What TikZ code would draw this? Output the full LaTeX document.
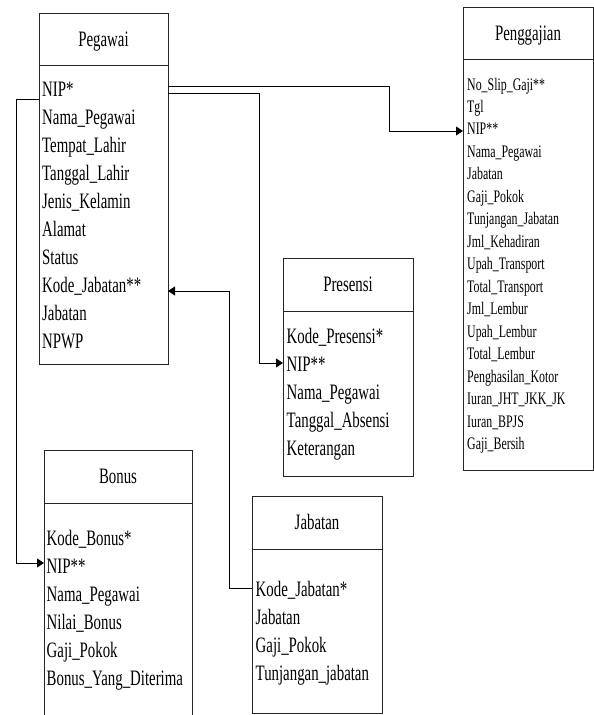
\documentclass[tikz,border=0pt]{standalone}
\usepackage{fontspec}
\setmainfont{Liberation Serif}[FakeStretch=0.675]
\usetikzlibrary{arrows.meta}
\begin{document}
\begin{tikzpicture}[x=1pt,y=-1pt,
  box/.style={draw=black!85, line width=0.8pt, inner sep=0pt, outer sep=0pt},
  hdr/.style={box, font=\fontsize{22}{26}\selectfont, text height=14.4pt, text depth=0pt},
  fld/.style={anchor=base west, inner sep=0pt, font=\fontsize{22}{26}\selectfont},
  fldsm/.style={anchor=base west, inner sep=0pt, font=\fontsize{17.6}{21}\selectfont},
  conn/.style={line width=0.8pt, draw=black},
  arr/.style={conn, -{Triangle[length=7pt,width=9pt]}}]
\useasboundingbox (0,0) rectangle (594,715);

% Pegawai
\node[hdr, minimum width=129pt, minimum height=52pt] (peghd) at (103.5,39) {Pegawai};
\node[box, minimum width=129pt, minimum height=299pt] (pegbd) at (103.5,214.5) {};
\foreach \t [count=\i from 0] in {NIP*, Nama\_Pegawai, Tempat\_Lahir, Tanggal\_Lahir, Jenis\_Kelamin, Alamat, Status, Kode\_Jabatan**, Jabatan, NPWP}
  \node[fld] (peg\i) at ({42},{96+28*\i}) {\t};

% Penggajian
\node[hdr, minimum width=130pt, minimum height=52pt] (pghd) at (528,33) {Penggajian};
\node[box, minimum width=130pt, minimum height=411pt] (pgbd) at (528,264.5) {};
\foreach \t [count=\i from 0] in {No\_Slip\_Gaji**, Tgl, NIP**, Nama\_Pegawai, Jabatan, Gaji\_Pokok, Tunjangan\_Jabatan, Jml\_Kehadiran, Upah\_Transport, Total\_Transport, Jml\_Lembur, Upah\_Lembur, Total\_Lembur, Penghasilan\_Kotor, Iuran\_JHT\_JKK\_JK, Iuran\_BPJS, Gaji\_Bersih}
  \node[fldsm] (pg\i) at ({467},{90+22.47*\i}) {\t};

% Presensi
\node[hdr, minimum width=130pt, minimum height=53pt] (prhd) at (348,284.5) {Presensi};
\node[box, minimum width=130pt, minimum height=165pt] (prbd) at (348,393.5) {};
\foreach \t [count=\i from 0] in {Kode\_Presensi*, NIP**, Nama\_Pegawai, Tanggal\_Absensi, Keterangan}
  \node[fld] (pr\i) at ({286.5},{343+28*\i}) {\t};

% Bonus
\node[hdr, minimum width=148pt, minimum height=53pt] (bnhd) at (118,476.5) {Bonus};
\node[inner sep=0pt, outer sep=0pt, minimum width=148pt, minimum height=212pt] (bnbd) at (118,609) {};
\draw[box] (bnbd.south west) -- (bnbd.north west) -- (bnbd.north east) -- (bnbd.south east);
\foreach \t [count=\i from 0] in {Kode\_Bonus*, NIP**, Nama\_Pegawai, Nilai\_Bonus, Gaji\_Pokok, Bonus\_Yang\_Diterima}
  \node[fld] (bn\i) at ({46.5},{545+28*\i}) {\t};

% Jabatan
\node[hdr, minimum width=130pt, minimum height=53pt] (jbhd) at (317,522.5) {Jabatan};
\node[box, minimum width=130pt, minimum height=164pt] (jbbd) at (317,631) {};
\foreach \t [count=\i from 0] in {Kode\_Jabatan*, Jabatan, Gaji\_Pokok, Tunjangan\_jabatan}
  \node[fld] (jb\i) at ({255.5},{596+28*\i}) {\t};

% Connectors
\draw[arr] (pegbd.east |- 0,86) -| (389,131) -- (pgbd.west |- 0,131);
\draw[arr] (pegbd.east |- 0,93) -| (259,363) -- (prbd.west |- 0,363);
\draw[arr] (pegbd.west |- 0,99) -| (16,563) -- (bnbd.west |- 0,563);
\draw[arr] (jbbd.west |- 0,588) -| (229,291) -- (pegbd.east |- 0,291);
\end{tikzpicture}
\end{document}
